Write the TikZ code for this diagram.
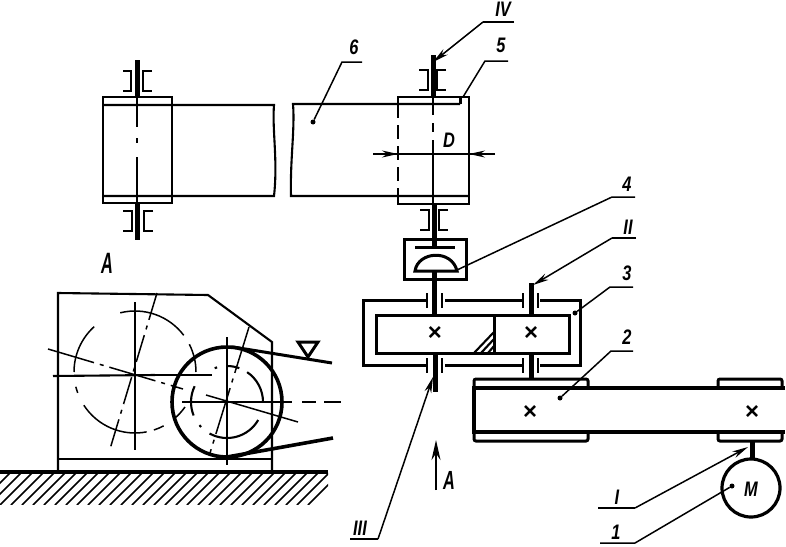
\documentclass[tikz,border=0pt]{standalone}
\usepackage{fontspec}
\setmainfont{Liberation Sans}
\usetikzlibrary{arrows.meta}
\tikzset{
  body/.style = {line width=2.1pt},
  heavy/.style = {line width=3pt},
  shaft/.style = {line width=5pt},
  axis/.style = {line width=1.5pt},
  hidden/.style = {line width=2.1pt, dash pattern=on 14pt off 7pt},
  leader/.style = {line width=1.5pt},
  tip/.style = {-{Stealth[length=16pt,width=7pt]}},
  dot/.style = {circle, fill, inner sep=0pt, minimum size=5pt},
  lab/.style = {font=\fontsize{21}{21}\selectfont\itshape\bfseries, xscale=0.78, inner sep=0pt},
  cross/.style = {font=\fontsize{24}{24}\selectfont\bfseries, inner sep=0pt}
}
\begin{document}
\begin{tikzpicture}[x=1pt, y=-1pt]
        \useasboundingbox (0,0) rectangle (786,546);
        % left roller
        \draw[body] (103,97) rectangle (172,203);
        \draw[body] (103,105) -- (274,105) .. controls (272,130) and (278,160) .. (274,196) -- (103,196);
        \draw[hidden] (172,105) -- (172,196);
        \draw[axis] (137,97) -- (137,127);
        \draw[axis] (137,138) -- (137,143);
        \draw[axis] (137,157) -- (137,203);
        \draw[shaft] (137,60) -- (137,97);
        \draw[shaft] (137,203) -- (137,240);
        \draw[body] (123,71) -- (131,71) -- (131,91) -- (123,91);
        \draw[body] (152,71) -- (143,71) -- (143,91) -- (152,91);
        \draw[body] (123,211) -- (132,211) -- (132,231) -- (123,231);
        \draw[body] (153,211) -- (144,211) -- (144,231) -- (153,231);
        % right roller
        \draw[body] (398,104) -- (398,97) -- (469,97) -- (469,204) -- (398,204) -- (398,196);
        \draw[body] (460,104) -- (293,104) .. controls (295,130) and (290,160) .. (291,196) -- (469,196);
        \draw[heavy] (460,97) -- (460,104);
        \draw[hidden] (398,104) -- (398,196);
        \draw[axis] (433,97) -- (433,115);
        \draw[axis] (433,123) -- (433,132);
        \draw[axis] (433,140) -- (433,204);
        \draw[shaft] (433,55) -- (433,97);
        \draw[shaft] (434,204) -- (434,239);
        \draw[body] (419,70) -- (428,70) -- (428,90) -- (419,90);
        \draw[body] (446,70) -- (437,70) -- (437,90) -- (446,90);
        \draw[body] (420,210) -- (429,210) -- (429,230) -- (420,230);
        \draw[body] (448,210) -- (439,210) -- (439,230) -- (448,230);
        % coupling
        \draw[heavy] (404,239) rectangle (466,279);
        \draw[heavy] (415,247) -- (455,247);
        \draw[shaft] (434,239) -- (434,247);
        \draw[heavy] (415,271) .. controls (418,251) and (452,249) .. (457,271) -- cycle;
        \draw[shaft] (434,271) -- (434,315);
        % gearbox
        \draw[heavy] (427,300) -- (363,300) -- (363,365) -- (427,365);
        \draw[heavy] (445,300) -- (522,300);
        \draw[heavy] (445,365) -- (522,365);
        \draw[heavy] (540,300) -- (580,300) -- (580,365) -- (540,365);
        \draw[heavy] (376,315) rectangle (569,353);
        \draw[heavy] (494,315) -- (494,353);
        \draw[body] (427,293) -- (427,308);
        \draw[body] (442,293) -- (442,308);
        \draw[body] (523,293) -- (523,308);
        \draw[body] (538,293) -- (538,308);
        \draw[body] (427,358) -- (427,373);
        \draw[body] (442,358) -- (442,373);
        \draw[body] (523,358) -- (523,373);
        \draw[body] (538,358) -- (538,373);
        \draw[shaft] (435,353) -- (435,392);
        \draw[shaft] (531,283) -- (531,315);
        \draw[shaft] (531,353) -- (531,379);
        \draw[body] (474,353) -- (494,332);
        \draw[body] (481,353) -- (494,339);
        \draw[body] (488,353) -- (494,346);
        \node[cross] (gearone) at (435,333) {×};
        \node[cross] (geartwo) at (531,333) {×};
        % belt drive
        \draw[heavy, rounded corners=2pt] (474,388) -- (474,379) -- (588,379) -- (588,388);
        \draw[heavy, rounded corners=2pt] (474,432) -- (474,441) -- (588,441) -- (588,432);
        \draw[heavy, rounded corners=2pt] (718,388) -- (718,379) -- (782,379) -- (782,388);
        \draw[heavy, rounded corners=2pt] (718,432) -- (718,441) -- (782,441) -- (782,432);
        \draw[line width=3.5pt] (785,388) -- (474,388) -- (474,432) -- (785,432);
        \node[cross] (pulleyone) at (530,412) {×};
        \node[cross] (pulleytwo) at (752,412) {×};
        % motor
        \draw[shaft] (752,441) -- (752,460);
        \draw[line width=3.2pt] (751,488) circle[radius=29];
        \node[lab] (motor) at (751,489) {M};
        % left view
        \draw[body] (58,472) -- (58,293) -- (208,295) -- (272,342) -- (272,472);
        \draw[body] (58,459) -- (272,459);
        \draw[line width=3.5pt] (0,472) -- (328,472);
        \begin{scope}
            \clip (0,472) rectangle (328,504);
            \foreach \hx in {-22,-11,...,308}
                \draw[axis] (\hx,505) -- (\hx+33,472);
        \end{scope}
        \foreach \arcfrom/\arcto in {256/323, 333/360, 228/180, 166/160, 147/79, 72/62, 50/35}
            \draw[axis] (135,372) ++(\arcfrom:61) arc[start angle=\arcfrom, end angle=\arcto, radius=61];
        \draw[body] (135,302) -- (135,450);
        \draw[body] (53,376) -- (155,375);
        \draw[body, dash pattern=on 60pt off 6pt on 12pt off 6pt] (155,375) -- (212,375);
        \draw[axis, dash pattern=on 48pt off 6pt on 4pt off 6pt] (48,349) -- (183,389);
        \draw[axis, dash pattern=on 28pt off 6pt on 4pt off 6pt] (157,293) -- (110,449);
        \draw[line width=3.6pt] (227,402) circle[radius=55];
        \foreach \arcfrom/\arcto in {304/360, 30/119, 158/206, 270/290, 250/254, 136/140}
            \draw[body] (227,402) ++(\arcfrom:36) arc[start angle=\arcfrom, end angle=\arcto, radius=36];
        \draw[body] (227,337) -- (227,465);
        \draw[body] (182,402) -- (292,402);
        \draw[body] (302,402) -- (316,402);
        \draw[body] (324,402) -- (341,402);
        \draw[axis] (206,395) -- (298,422);
        \draw[axis, dash pattern=on 48pt off 6pt on 4pt off 6pt] (249,327) -- (210,453);
        \draw[heavy] (233,347) -- (332,363);
        \draw[line width=3.6pt] (227,457) -- (333,438);
        \draw[heavy] (298,342) -- (318,342) -- (308,357) -- cycle;
        % dimension and view arrow
        \coordinate (dimleft) at (398,154);
        \coordinate (dimright) at (469,154);
        \coordinate (dimlefttail) at (373,154);
        \coordinate (dimrighttail) at (495,154);
        \draw[axis] (dimlefttail) -- (dimrighttail);
        \draw[axis, tip] (dimlefttail) -- (dimleft);
        \draw[axis, tip] (dimrighttail) -- (dimright);
        \node[lab] (dia) at (449,140) {D};
        \coordinate (viewtail) at (436,490);
        \coordinate (viewhead) at (436,440);
        \draw[body, -{Stealth[length=20pt,width=9pt]}] (viewtail) -- (viewhead);
        \node[lab, yscale=1.25] (viewb) at (449,480) {A};
        \node[lab, yscale=1.4] (viewa) at (107,263) {A};
        % leaders
        \node[dot] (enda) at (313,122) {};
        \coordinate (kinka) at (342,62);
        \coordinate (taila) at (362,62);
        \draw[leader] (enda) -- (kinka) -- (taila);
        \node[lab] (labsix) at (354,47) {6};
        \coordinate (endb) at (463,97);
        \coordinate (kinkb) at (485,61);
        \coordinate (tailb) at (508,61);
        \draw[leader] (endb) -- (kinkb) -- (tailb);
        \node[lab] (labfive) at (501,45) {5};
        \coordinate (endc) at (433,62);
        \coordinate (kinkc) at (483,22);
        \coordinate (tailc) at (514,22);
        \draw[leader] (tailc) -- (kinkc);
        \draw[leader, tip] (kinkc) -- (endc);
        \node[lab] (labfour) at (503,9) {IV};
        \coordinate (endd) at (457,270);
        \coordinate (kinkd) at (612,197);
        \coordinate (taild) at (635,197);
        \draw[leader] (endd) -- (kinkd) -- (taild);
        \node[lab] (labcoupling) at (627,184) {4};
        \coordinate (ende) at (533,285);
        \coordinate (kinke) at (612,238);
        \coordinate (taile) at (636,238);
        \draw[leader] (taile) -- (kinke);
        \draw[leader, tip] (kinke) -- (ende);
        \node[lab] (labtwo) at (628,227) {II};
        \node[dot] (endf) at (575,313) {};
        \coordinate (kinkf) at (610,287);
        \coordinate (tailf) at (633,287);
        \draw[leader] (endf) -- (kinkf) -- (tailf);
        \node[lab] (labgear) at (627,273) {3};
        \node[dot] (endg) at (560,398) {};
        \coordinate (kinkg) at (611,351);
        \coordinate (tailg) at (633,351);
        \draw[leader] (endg) -- (kinkg) -- (tailg);
        \node[lab] (labbelt) at (627,337) {2};
        \coordinate (endh) at (433,377);
        \coordinate (kinkh) at (378,539);
        \coordinate (tailh) at (350,539);
        \draw[leader] (tailh) -- (kinkh);
        \draw[leader, tip] (kinkh) -- (endh);
        \node[lab] (labthree) at (360,528) {III};
        \coordinate (endi) at (748,447);
        \coordinate (kinki) at (635,508);
        \coordinate (taili) at (598,508);
        \draw[leader] (taili) -- (kinki);
        \draw[leader, tip] (kinki) -- (endi);
        \node[lab] (labone) at (617,497) {I};
        \node[dot] (endj) at (732,486) {};
        \coordinate (kinkj) at (635,543);
        \coordinate (tailj) at (600,543);
        \draw[leader] (endj) -- (kinkj) -- (tailj);
        \node[lab] (labmotor) at (616,532) {1};
    \end{tikzpicture}
\end{document}
